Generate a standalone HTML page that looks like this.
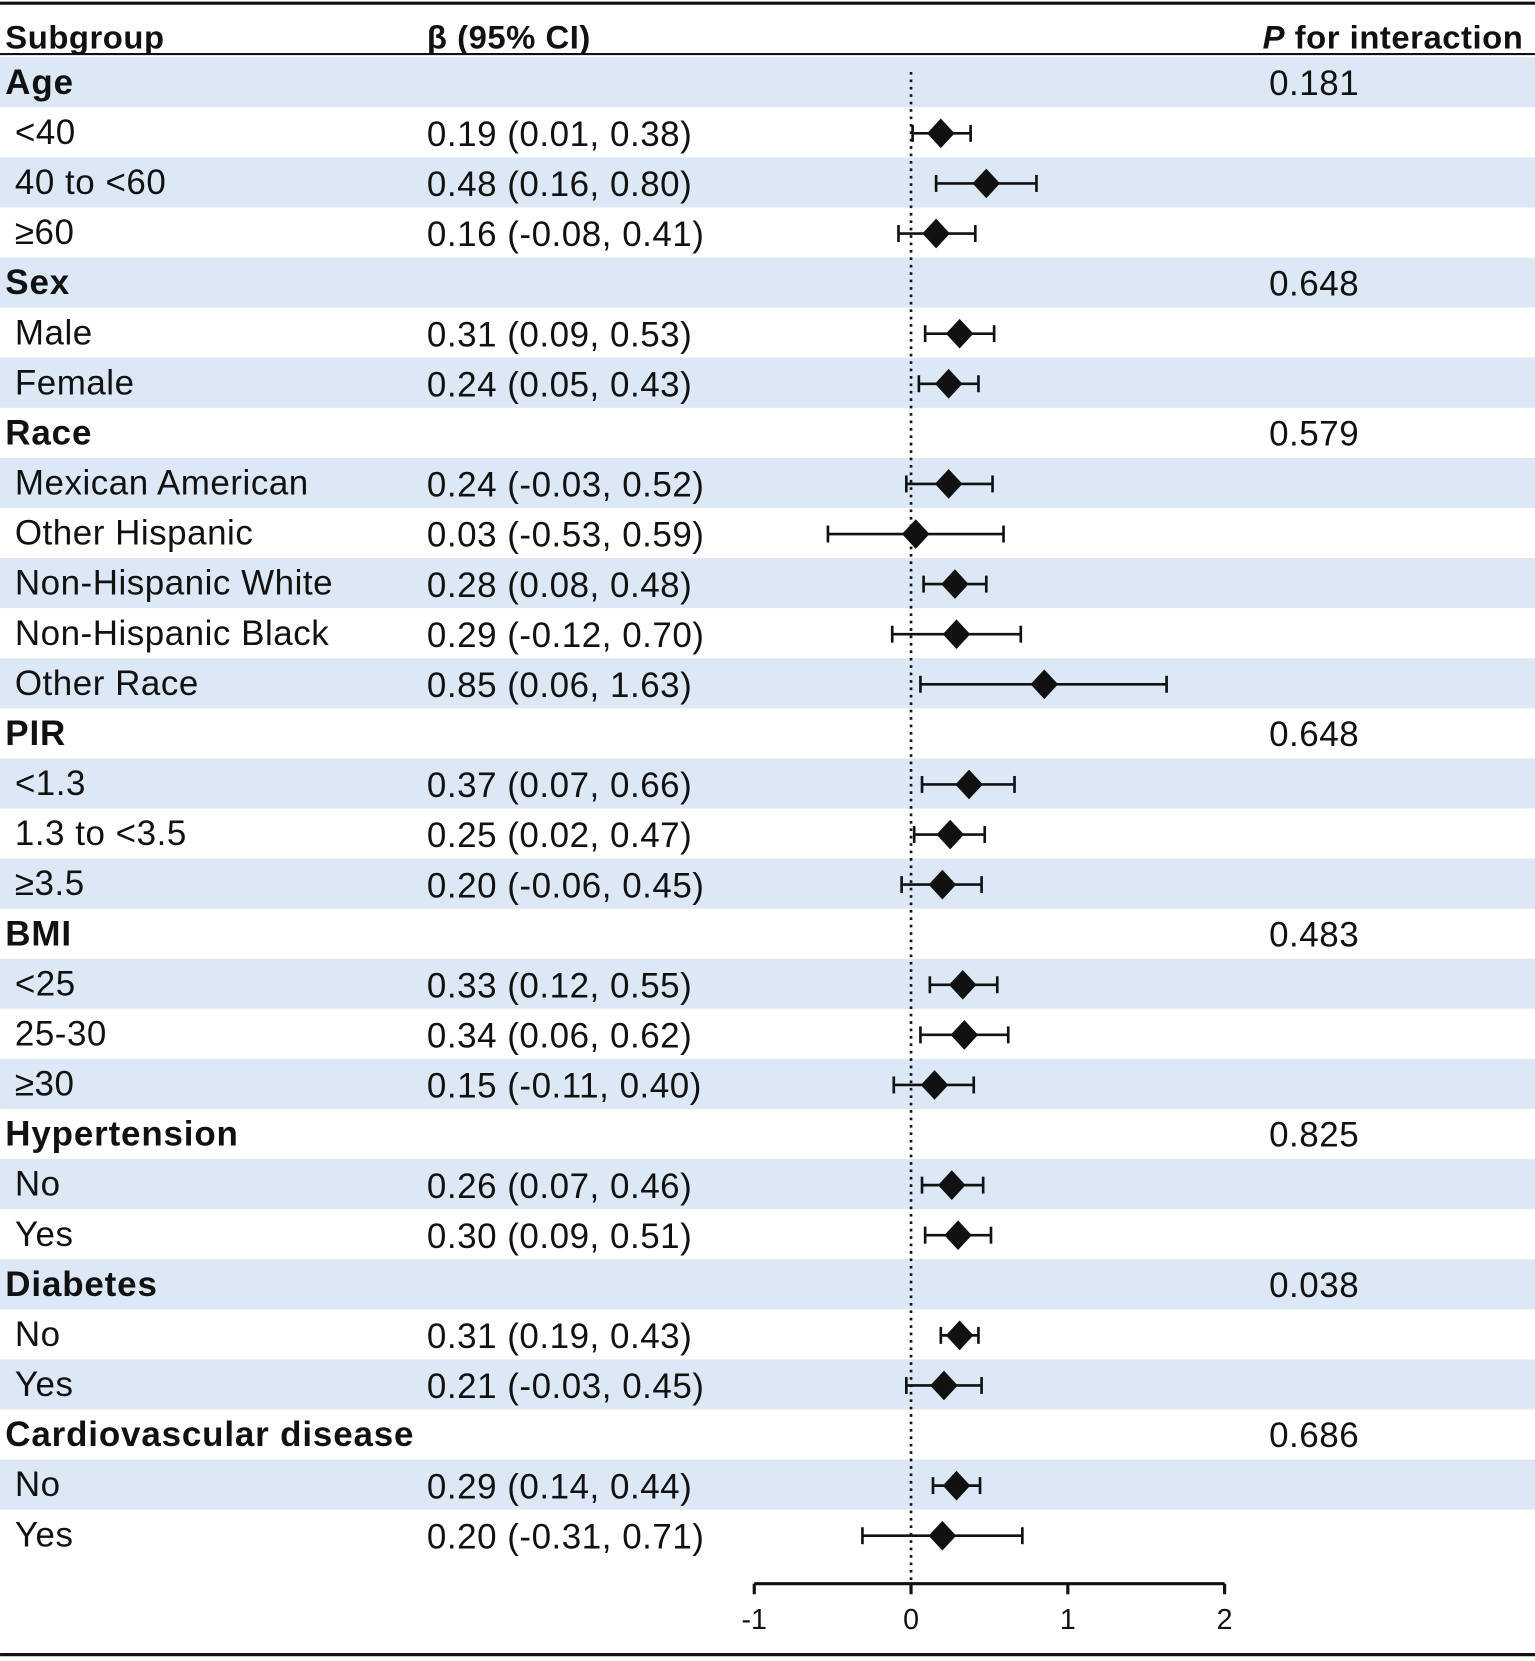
<!DOCTYPE html>
<html><head><meta charset="utf-8"><style>
html,body{margin:0;padding:0;background:#fff}
svg{display:block}
text{font-family:"Liberation Sans",sans-serif;fill:#111}
</style></head><body>
<svg id="chart" width="1535" height="1661" viewBox="0 0 1449 1568" xmlns="http://www.w3.org/2000/svg">
<g id="bg"></g>
<line x1="0" y1="3" x2="1449" y2="3" stroke="#111" stroke-width="3"/>
<text x="5" y="46" font-size="31" font-weight="bold" letter-spacing="0.5">Subgroup</text>
<text x="403" y="46" font-size="31" font-weight="bold" letter-spacing="0.5">β (95% CI)</text>
<text x="1438" y="46" font-size="31" font-weight="bold" letter-spacing="0.5" text-anchor="end"><tspan font-style="italic">P</tspan> for interaction</text>
<line x1="0" y1="51" x2="1449" y2="51" stroke="#111" stroke-width="2"/>
<g id="rows"></g>
<g id="marks"></g>
<g id="axis"></g>
<line x1="0" y1="1562" x2="1449" y2="1562" stroke="#111" stroke-width="3"/>
</svg>
<script>
const labels=["Age","<40","40 to <60","≥60","Sex","Male","Female","Race","Mexican American","Other Hispanic","Non-Hispanic White","Non-Hispanic Black","Other Race","PIR","<1.3","1.3 to <3.5","≥3.5","BMI","<25","25-30","≥30","Hypertension","No","Yes","Diabetes","No","Yes","Cardiovascular disease","No","Yes"];
const isGroup=[1,0,0,0,1,0,0,1,0,0,0,0,0,1,0,0,0,1,0,0,0,1,0,0,1,0,0,1,0,0];
const est=[null,0.19,0.48,0.16,null,0.31,0.24,null,0.24,0.03,0.28,0.29,0.85,null,0.37,0.25,0.20,null,0.33,0.34,0.15,null,0.26,0.30,null,0.31,0.21,null,0.29,0.20];
const lo=[null,0.01,0.16,-0.08,null,0.09,0.05,null,-0.03,-0.53,0.08,-0.12,0.06,null,0.07,0.02,-0.06,null,0.12,0.06,-0.11,null,0.07,0.09,null,0.19,-0.03,null,0.14,-0.31];
const hi=[null,0.38,0.80,0.41,null,0.53,0.43,null,0.52,0.59,0.48,0.70,1.63,null,0.66,0.47,0.45,null,0.55,0.62,0.40,null,0.46,0.51,null,0.43,0.45,null,0.44,0.71];
const pvals=["0.181","","","","0.648","","","0.579","","","","","","0.648","","","","0.483","","","","0.825","","","0.038","","","0.686","",""];
const ticks=[-1,0,1,2];
const NS="http://www.w3.org/2000/svg";
const X=v=>860+148*v;
const rowTop=i=>54+47.28*i;
const rowC=i=>rowTop(i)+23.6;
function mk(tag,attrs,parent){const e=document.createElementNS(NS,tag);for(const k in attrs)e.setAttribute(k,attrs[k]);parent.appendChild(e);return e;}
const bg=document.getElementById('bg'),rows=document.getElementById('rows'),marks=document.getElementById('marks'),axis=document.getElementById('axis');
labels.forEach((lab,i)=>{
  if(i%2===0){const r=mk('rect',{x:0,y:rowTop(i),width:1449,height:47.3,fill:'#dce8f5'},bg);
    
    }
  const t=mk('text',{x:isGroup[i]?5:14,y:rowC(i)+11,'font-size':33,'letter-spacing':isGroup[i]?0.8:0.5,'font-weight':isGroup[i]?'bold':'normal'},rows);
  t.textContent=lab;
  
  
  if(est[i]!==null){
    const b=mk('text',{x:403,y:rowC(i)+13,'font-size':33,'letter-spacing':0.5},rows);
    b.textContent=est[i].toFixed(2)+" ("+lo[i].toFixed(2)+", "+hi[i].toFixed(2)+")";
    
    
  }
  if(pvals[i]){const p=mk('text',{x:1198,y:rowC(i)+12,'font-size':33,'letter-spacing':0.5},rows);p.textContent=pvals[i];
    
    }
});
const ref=mk('line',{x1:X(0),y1:68,x2:X(0),y2:1495,stroke:'#111','stroke-width':2.5,'stroke-dasharray':'2.5 4.5'},axis);


est.forEach((v,i)=>{
  if(v===null)return;
  const y=rowC(i)+1;
  const g=mk('g',{},marks);
  
  
  mk('line',{x1:X(lo[i]),y1:y,x2:X(hi[i]),y2:y,stroke:'#111','stroke-width':2.5},g);
  mk('line',{x1:X(lo[i]),y1:y-8,x2:X(lo[i]),y2:y+8,stroke:'#111','stroke-width':2.5},g);
  mk('line',{x1:X(hi[i]),y1:y-8,x2:X(hi[i]),y2:y+8,stroke:'#111','stroke-width':2.5},g);
  const cx=X(v);
  mk('polygon',{points:`${cx-13},${y} ${cx},${y-14} ${cx+13},${y} ${cx},${y+14}`,fill:'#111'},g);
});
const al=mk('line',{x1:X(ticks[0]),y1:1495,x2:X(ticks[ticks.length-1]),y2:1495,stroke:'#111','stroke-width':3},axis);


ticks.forEach(t=>{
  const l=mk('line',{x1:X(t),y1:1495,x2:X(t),y2:1505,stroke:'#111','stroke-width':3},axis);
  
  
  const tx=mk('text',{x:X(t),y:1538,'font-size':27,'text-anchor':'middle'},axis);
  tx.textContent=String(t);
  
  
});
</script>
</body></html>
